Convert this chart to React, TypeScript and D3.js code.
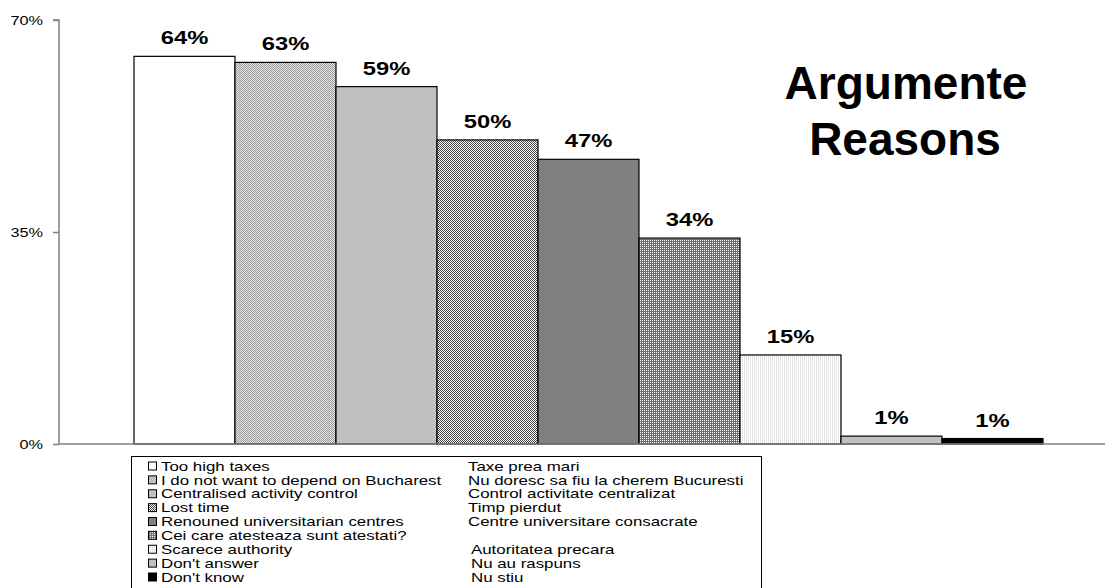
import React, { useEffect, useRef } from 'react';
import * as d3 from 'd3';

const seriesEn = [
  "Too high taxes",
  "I do not want to depend on Bucharest",
  "Centralised activity control",
  "Lost time",
  "Renouned universitarian centres",
  "Cei care atesteaza sunt atestati?",
  "Scarece authority",
  "Don't answer",
  "Don't know",
];
const seriesRo = [
  "Taxe prea mari",
  "Nu doresc sa fiu la cherem Bucuresti",
  "Control activitate centralizat",
  "Timp pierdut",
  "Centre universitare consacrate",
  "",
  "Autoritatea precara",
  "Nu au raspuns",
  "Nu stiu",
];
const values = [64, 63, 59, 50.2, 47, 34, 14.7, 1.3, 0.9];
const valueLabels = ["64%", "63%", "59%", "50%", "47%", "34%", "15%", "1%", "1%"];
const yTicks = [0, 35, 70];
const fills = [
  "#ffffff",
  "url(#pLight)",
  "#c0c0c0",
  "url(#pDark)",
  "#808080",
  "url(#pGrid)",
  "url(#pDots)",
  "#c0c0c0",
  "#000000",
];

const W = 1108;
const H = 588;
// the original picture was stretched sideways, so small texts are widened
const SX = 1.25;

const App: React.FC = () => {
  const svgRef = useRef<SVGSVGElement>(null);

  useEffect(() => {
    if (!svgRef.current) return;
    const svg = d3.select(svgRef.current);
    svg.selectAll("*").remove();
    const font = "Arial, 'Liberation Sans', sans-serif";

    const defs = svg.append("defs");
    const checker = (id: string, a: string, b: string) => {
      const p = defs.append("pattern").attr("id", id).attr("width", 2).attr("height", 2)
        .attr("patternUnits", "userSpaceOnUse");
      p.append("rect").attr("width", 2).attr("height", 2).attr("fill", b);
      p.append("rect").attr("width", 1).attr("height", 1).attr("fill", a);
      p.append("rect").attr("x", 1).attr("y", 1).attr("width", 1).attr("height", 1).attr("fill", a);
    };
    checker("pLight", "#9a9a9a", "#e6e6e6");
    checker("pDark", "#444444", "#ffffff");
    const g2 = defs.append("pattern").attr("id", "pGrid").attr("width", 2).attr("height", 2)
      .attr("patternUnits", "userSpaceOnUse");
    g2.append("rect").attr("width", 2).attr("height", 2).attr("fill", "#6e6e6e");
    g2.append("rect").attr("width", 1).attr("height", 1).attr("fill", "#ffffff");
    const d2 = defs.append("pattern").attr("id", "pDots").attr("width", 2).attr("height", 2)
      .attr("patternUnits", "userSpaceOnUse");
    d2.append("rect").attr("width", 2).attr("height", 2).attr("fill", "#ffffff");
    d2.append("rect").attr("width", 1).attr("height", 2).attr("fill", "#e4e4e4");

    const x = d3.scaleBand<number>()
      .domain(values.map((_, i) => i))
      .range([134, 1043])
      .padding(0);
    const y = d3.scaleLinear().domain([0, 70]).range([444, 20]);

    // bars
    svg.append("g").selectAll("rect")
      .data(values)
      .enter()
      .append("rect")
      .attr("x", (_d, i) => x(i)!)
      .attr("y", d => y(d))
      .attr("width", x.bandwidth())
      .attr("height", d => y(0) - y(d))
      .attr("fill", (_d, i) => fills[i])
      .attr("stroke", "#000")
      .attr("stroke-width", 1.2);

    // value labels
    svg.append("g").selectAll("text")
      .data(values)
      .enter()
      .append("text")
      .attr("transform", (d, i) => `translate(${x(i)! + x.bandwidth() / 2},${y(d) - 12}) scale(${SX},1)`)
      .attr("text-anchor", "middle")
      .attr("font-family", font)
      .attr("font-weight", "bold")
      .attr("font-size", "19px")
      .attr("fill", "#000")
      .text((_d, i) => valueLabels[i]);

    // axes
    const axisG = svg.append("g").attr("transform", "translate(59,0)");
    axisG.call(d3.axisLeft(y).tickValues(yTicks).tickSize(6).tickPadding(5).tickFormat(d => `${d}%`));
    axisG.select(".domain").attr("stroke", "#808080").attr("stroke-width", 1.5).attr("d", `M-6,${y(70)}H0V${y(0)}`);
    axisG.selectAll(".tick line").attr("stroke", "#808080").attr("stroke-width", 1.5);
    axisG.selectAll(".tick text")
      .attr("x", -16 / SX)
      .attr("transform", `scale(${SX},1)`)
      .attr("font-family", font)
      .attr("font-size", "13px")
      .attr("fill", "#000");
    svg.append("line")
      .attr("x1", 59).attr("x2", 1105)
      .attr("y1", y(0)).attr("y2", y(0))
      .attr("stroke", "#808080").attr("stroke-width", 1.5);

    // title
    const title = svg.append("text")
      .attr("text-anchor", "middle")
      .attr("font-family", font)
      .attr("font-weight", "bold")
      .attr("font-size", "46px")
      .attr("fill", "#000");
    title.append("tspan").attr("x", 906).attr("y", 99).text("Argumente");
    title.append("tspan").attr("x", 905).attr("y", 155).text("Reasons");

    // legend
    const lg = svg.append("g");
    lg.append("rect")
      .attr("x", 131.5).attr("y", 456.5)
      .attr("width", 630).attr("height", 150)
      .attr("fill", "#fff").attr("stroke", "#000").attr("stroke-width", 1);
    const rowY = d3.scaleLinear().domain([0, 8]).range([466, 577]);
    seriesEn.forEach((name, i) => {
      const cy = rowY(i);
      lg.append("rect")
        .attr("x", 148.5).attr("y", cy - 4)
        .attr("width", 8).attr("height", 8)
        .attr("fill", fills[i]).attr("stroke", "#000").attr("stroke-width", 1);
      lg.append("text")
        .attr("transform", `translate(161,${cy}) scale(${SX},1)`)
        .attr("dy", "0.35em")
        .attr("font-family", font).attr("font-size", "13.5px")
        .attr("fill", "#000")
        .text(name);
      if (seriesRo[i]) {
        lg.append("text")
          .attr("transform", `translate(${i >= 6 ? 471 : 468},${cy}) scale(${SX},1)`)
          .attr("dy", "0.35em")
          .attr("font-family", font).attr("font-size", "13.5px")
          .attr("fill", "#000")
          .text(seriesRo[i]);
      }
    });
  }, []);

  return (
    <div style={{ position: 'absolute', left: 0, top: 0, width: W, height: H, background: '#fff', overflow: 'hidden' }}>
      <svg ref={svgRef} width={W} height={H}></svg>
    </div>
  );
};

export default App;
